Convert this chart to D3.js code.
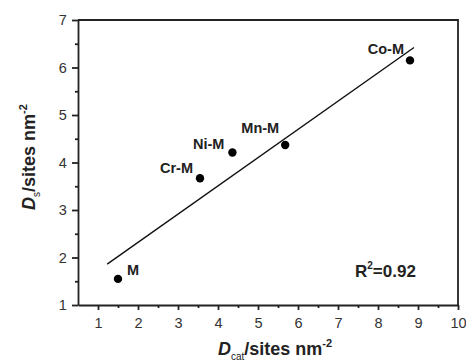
<!DOCTYPE html>
<html>
<head>
<meta charset="utf-8">
<script src="https://cdn.jsdelivr.net/npm/d3@7"></script>
<style>
  body { margin: 0; background: #fff; }
  text { font-family: "Liberation Sans", Arial, sans-serif; }
</style>
</head>
<body>
<div id="chart"></div>
<script>
// data
var labels = ["M", "Cr-M", "Ni-M", "Mn-M", "Co-M"];
var dcat = [1.5, 3.55, 4.36, 5.68, 8.8];
var ds = [1.55, 3.67, 4.21, 4.37, 6.15];
var fitX = [1.23, 8.9];
var fitY = [1.86, 6.42];
var xTicks = [1, 2, 3, 4, 5, 6, 7, 8, 9, 10];
var yTicks = [1, 2, 3, 4, 5, 6, 7];

var width = 466, height = 363;
var margin = {left: 78, top: 20, right: 8, bottom: 58};

var svg = d3.select('#chart').append('svg')
  .attr('width', width)
  .attr('height', height);

var x = d3.scaleLinear().domain([0.5, 10]).range([margin.left, width - margin.right]);
var y = d3.scaleLinear().domain([1, 7]).range([height - margin.bottom, margin.top]);

// minor ticks at the halves
var xMinor = d3.range(1.5, 10, 1);
var yMinor = d3.range(1.5, 7, 1);

var xAxis = svg.append('g')
  .attr('transform', 'translate(0,' + y(1) + ')')
  .call(d3.axisBottom(x).tickValues(xTicks).tickFormat(d3.format('d')).tickSize(5).tickSizeOuter(0));
svg.append('g')
  .attr('transform', 'translate(0,' + y(1) + ')')
  .call(d3.axisBottom(x).tickValues(xMinor).tickFormat('').tickSize(3).tickSizeOuter(0))
  .select('.domain').remove();

var yAxis = svg.append('g')
  .attr('transform', 'translate(' + x(0.5) + ',0)')
  .call(d3.axisLeft(y).tickValues(yTicks).tickFormat(d3.format('d')).tickSize(6).tickSizeOuter(0));
svg.append('g')
  .attr('transform', 'translate(' + x(0.5) + ',0)')
  .call(d3.axisLeft(y).tickValues(yMinor).tickFormat('').tickSize(3).tickSizeOuter(0))
  .select('.domain').remove();

svg.selectAll('.domain, .tick line').attr('stroke', '#222').attr('stroke-width', 1.8);
svg.selectAll('.tick text')
  .attr('font-size', 14.5)
  .attr('fill', '#333')
  .attr('font-family', '"Liberation Sans", Arial, sans-serif');
xAxis.selectAll('.tick text').attr('dy', '1.0em');
yAxis.selectAll('.tick text').attr('dx', '-0.15em');

// top and right frame
svg.append('path')
  .attr('d', 'M' + x(0.5) + ',' + y(7) + 'H' + x(10) + 'V' + y(1))
  .attr('fill', 'none')
  .attr('stroke', '#222')
  .attr('stroke-width', 1.8);

// fitted line
svg.append('line')
  .attr('x1', x(fitX[0])).attr('y1', y(fitY[0]))
  .attr('x2', x(fitX[1])).attr('y2', y(fitY[1]))
  .attr('stroke', '#111')
  .attr('stroke-width', 1.4);

// points
svg.selectAll('circle.pt')
  .data(labels)
  .enter().append('circle')
  .attr('class', 'pt')
  .attr('cx', function(d, i) { return x(dcat[i]); })
  .attr('cy', function(d, i) { return y(ds[i]); })
  .attr('r', 4.2)
  .attr('fill', '#000');

// point labels, offset by hand
var offsets = [[9, -4, 'start'], [-7, -5, 'end'], [-8, -4, 'end'], [-6, -12, 'end'], [-6, -6, 'end']];
svg.selectAll('text.lbl')
  .data(labels)
  .enter().append('text')
  .attr('class', 'lbl')
  .attr('x', function(d, i) { return x(dcat[i]) + offsets[i][0]; })
  .attr('y', function(d, i) { return y(ds[i]) + offsets[i][1]; })
  .attr('text-anchor', function(d, i) { return offsets[i][2]; })
  .attr('font-size', 14.5)
  .attr('font-weight', 'bold')
  .attr('fill', '#222')
  .text(function(d) { return d; });

// R^2
var r2 = svg.append('text')
  .attr('x', 355).attr('y', 277)
  .attr('font-size', 17)
  .attr('font-weight', 'bold')
  .attr('fill', '#222');
r2.append('tspan').text('R');
r2.append('tspan').attr('font-size', 10).attr('dy', -8).text('2');
r2.append('tspan').attr('dy', 8).text('=0.92');

// x axis title
var xt = svg.append('text')
  .attr('x', 275).attr('y', 355)
  .attr('text-anchor', 'middle')
  .attr('font-size', 18)
  .attr('font-weight', 'bold')
  .attr('fill', '#222');
xt.append('tspan').attr('font-style', 'italic').text('D');
xt.append('tspan').attr('font-size', 10).attr('font-weight', 'normal').attr('dy', 5).text('cat');
xt.append('tspan').attr('dy', -5).text('/sites nm');
xt.append('tspan').attr('font-size', 11).attr('dy', -8).text('-2');

// y axis title
var yt = svg.append('text')
  .attr('transform', 'translate(35,157) rotate(-90)')
  .attr('text-anchor', 'middle')
  .attr('font-size', 18)
  .attr('font-weight', 'bold')
  .attr('fill', '#222');
yt.append('tspan').attr('font-style', 'italic').text('D');
yt.append('tspan').attr('font-size', 10).attr('font-weight', 'normal').attr('dy', 5).text('s');
yt.append('tspan').attr('dy', -5).text('/sites nm');
yt.append('tspan').attr('font-size', 11).attr('dy', -8).text('-2');
</script>
</body>
</html>
